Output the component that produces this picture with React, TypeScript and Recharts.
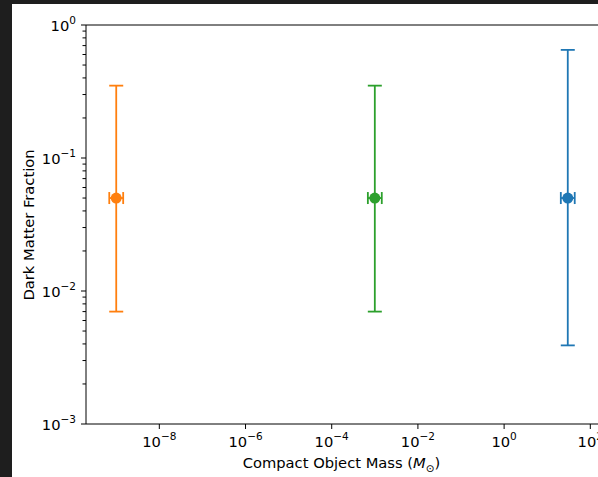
import React from 'react';
import { ScatterChart, Scatter, XAxis, YAxis, ErrorBar, ReferenceLine } from 'recharts';

// Values
const labels = ['orange', 'green', 'blue'];
const colors = ['#ff7f0e', '#2ca02c', '#1f77b4'];
const masses = [1e-9, 1e-3, 30];
const massErrFactor = [1.45, 1.45, 1.45];
const fractions = [0.05, 0.05, 0.05];
const fractionLow = [0.007, 0.007, 0.0039];
const fractionHigh = [0.35, 0.35, 0.65];

const xTickExps = [-8, -6, -4, -2, 0, 2];
const yTickExps = [-3, -2, -1, 0];

const FONT = '"DejaVu Sans", sans-serif';
const FS = 14.7;
const SUP = 10.5;

// matplotlib-style 5% log margin around the error-bar extent
const lo = Math.min(...masses.map((m, i) => Math.log10(m / massErrFactor[i])));
const hi = Math.max(...masses.map((m, i) => Math.log10(m * massErrFactor[i])));
const pad = (hi - lo) * 0.05;
const xDomain = [Math.pow(10, lo - pad), Math.pow(10, hi + pad)];
const yDomain = [0.001, 1];

const series = labels.map((name, i) => ({
  name,
  color: colors[i],
  data: [
    {
      x: masses[i],
      y: fractions[i],
      xErr: [masses[i] - masses[i] / massErrFactor[i], masses[i] * massErrFactor[i] - masses[i]],
      yErr: [fractions[i] - fractionLow[i], fractionHigh[i] - fractions[i]],
    },
  ],
}));

const xTicks = xTickExps.map((e) => Math.pow(10, e));
const yTicks = yTickExps.map((e) => Math.pow(10, e));

// minor log ticks on the y axis, placed on the left spine through the chart's scales
const yMinorTicks: { x: number; y: number }[] = [];
yTickExps.forEach((e) => {
  if (e < 0) for (let k = 2; k <= 9; k++) yMinorTicks.push({ x: xDomain[0], y: k * Math.pow(10, e) });
});

const Pow = ({ exp }: { exp: number }) => (
  <>
    <tspan>10</tspan>
    <tspan dy={-7} fontSize={SUP}>{exp < 0 ? '\u2212' + Math.abs(exp) : String(exp)}</tspan>
  </>
);

const XTick = (props: any) => {
  const { x, y, payload } = props;
  const exp = Math.round(Math.log10(payload.value));
  return (
    <g>
      <line x1={x} x2={x} y1={y} y2={y + 5} stroke="#000" strokeWidth={1} />
      <text x={x} y={y + 23} textAnchor="middle" fontSize={FS} fontFamily={FONT} fill="#000">
        <Pow exp={exp} />
      </text>
    </g>
  );
};

const YTick = (props: any) => {
  const { x, y, payload } = props;
  const exp = Math.round(Math.log10(payload.value));
  return (
    <g>
      <line x1={x - 5} x2={x} y1={y} y2={y} stroke="#000" strokeWidth={1} />
      <text x={x - 10} y={y + 5.5} textAnchor="end" fontSize={FS} fontFamily={FONT} fill="#000">
        <Pow exp={exp} />
      </text>
    </g>
  );
};

const MinorTick = (p: any) => (
  <line x1={p.cx - 3.5} x2={p.cx} y1={p.cy} y2={p.cy} stroke="#000" strokeWidth={1} />
);

const Dot = (color: string) => (p: any) => <circle cx={p.cx} cy={p.cy} r={5.5} fill={color} />;

const App: React.FC = () => {
  return (
    <div style={{ position: 'fixed', left: 0, top: 0, width: 598, height: 477, background: '#1e1e1e' }}>
      <div style={{ position: 'absolute', left: 12, top: 4, width: 586, height: 473, background: '#fff' }}>
        <ScatterChart width={586} height={473} margin={{ top: 21, right: 0, bottom: 0, left: 14 }}>
          <XAxis
            dataKey="x"
            type="number"
            scale="log"
            domain={xDomain}
            ticks={xTicks}
            interval={0}
            tickLine={false}
            tickSize={0}
            tickMargin={0}
            tick={<XTick />}
            height={53}
            axisLine={{ stroke: '#000', strokeWidth: 1 }}
          />
          <YAxis
            dataKey="y"
            type="number"
            scale="log"
            domain={yDomain}
            ticks={yTicks}
            interval={0}
            tickLine={false}
            tickSize={0}
            tickMargin={0}
            tick={<YTick />}
            width={60}
            axisLine={{ stroke: '#000', strokeWidth: 1 }}
          />
          <ReferenceLine y={1} stroke="#000" strokeWidth={1} />
          <Scatter data={yMinorTicks} shape={MinorTick} isAnimationActive={false} />
          {series.map((s) => (
            <Scatter key={s.name} data={s.data} fill={s.color} shape={Dot(s.color)} isAnimationActive={false}>
              <ErrorBar dataKey="yErr" direction="y" width={7} stroke={s.color} strokeWidth={1.8} />
              <ErrorBar dataKey="xErr" direction="x" width={6} stroke={s.color} strokeWidth={1.8} />
            </Scatter>
          ))}
          <text x={329.5} y={464} textAnchor="middle" fontSize={FS} fontFamily={FONT} fill="#000">
            Compact Object Mass (<tspan fontStyle="italic">M</tspan>
            <tspan dy={4} fontSize={SUP}>{'\u2299'}</tspan>
            <tspan dy={-4}>)</tspan>
          </text>
          <text
            x={16}
            y={221}
            transform="rotate(-90 16 221)"
            textAnchor="middle"
            dominantBaseline="central"
            fontSize={FS}
            fontFamily={FONT}
            fill="#000"
          >
            Dark Matter Fraction
          </text>
        </ScatterChart>
      </div>
    </div>
  );
};

export default App;
